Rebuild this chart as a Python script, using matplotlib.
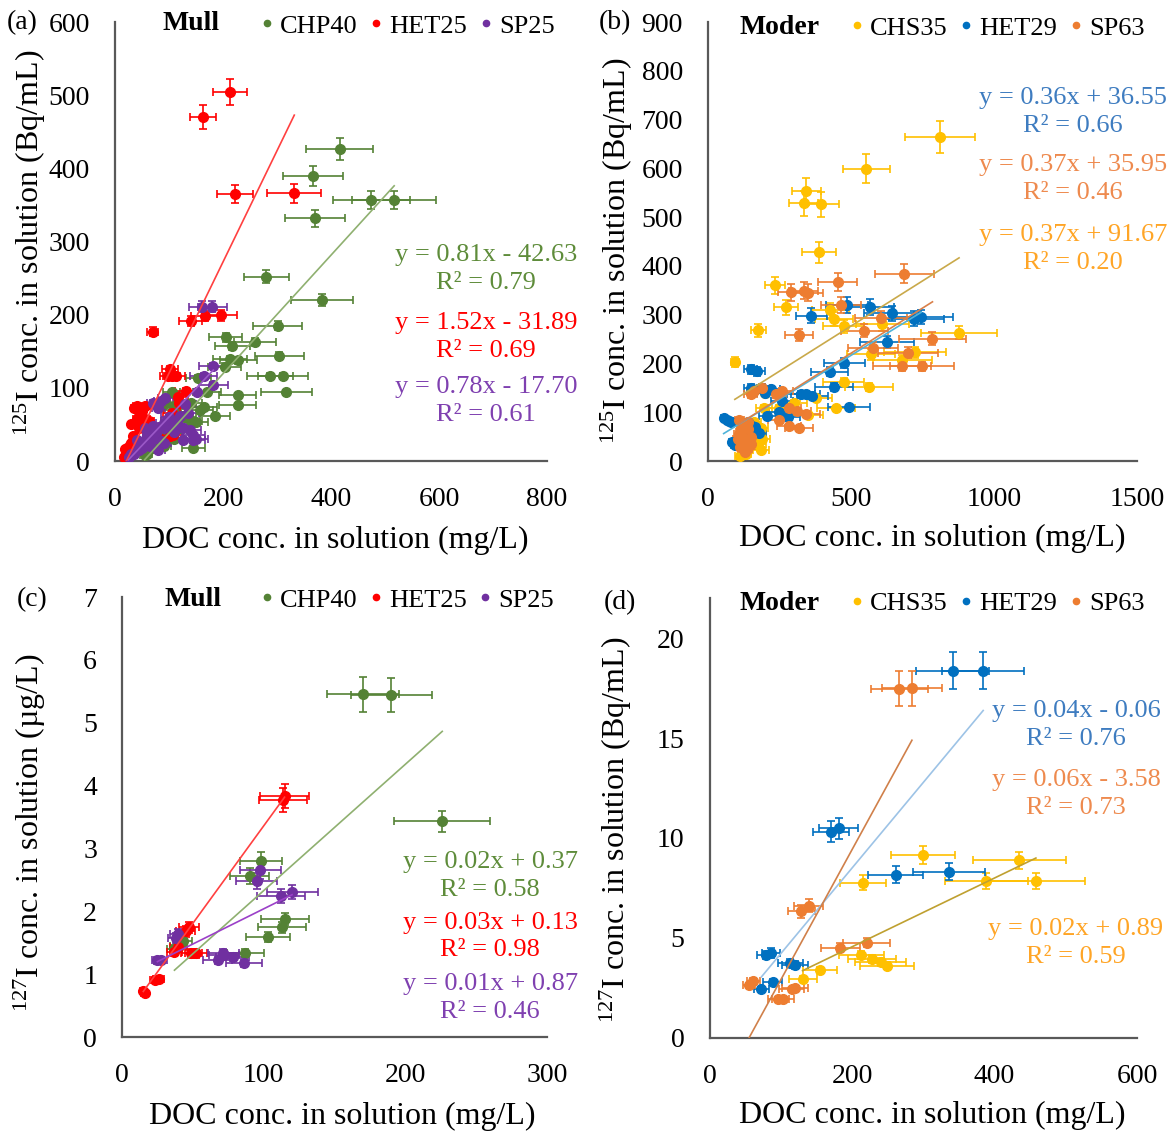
import numpy as np
import matplotlib
matplotlib.use("Agg")
import matplotlib.pyplot as plt
from matplotlib.lines import Line2D

plt.rcParams.update({
    "font.family": "Liberation Serif",
    "mathtext.fontset": "custom",
    "mathtext.rm": "Liberation Serif",
    "mathtext.it": "Liberation Serif:italic",
    "mathtext.bf": "Liberation Serif:bold",
})

# ---------------- data ----------------
# (a) 125I vs DOC, Mull soils
A_CHP40_X = [416, 367, 475, 517, 370, 280, 383, 301, 205, 217, 259, 304, 213, 228, 203,
             287, 311, 317, 227, 227, 170, 154, 185, 164, 150, 157, 105, 107, 130, 120,
             95, 85, 70, 60, 55, 100, 140, 110, 95, 110, 125, 140, 75, 90, 145, 80]
A_CHP40_Y = [426, 390, 357, 357, 332, 252, 220, 185, 169, 157, 163, 144, 139, 138, 129,
             116, 116, 94, 90, 76, 94, 113, 62, 74, 53, 70, 94, 70, 60, 45,
             35, 25, 18, 10, 8, 55, 80, 30, 80, 75, 62, 55, 30, 20, 18, 40]
A_HET25_X = [213, 163, 222, 332, 70, 140, 166, 196, 102, 99, 105, 112, 131, 117, 40,
             56, 40, 49, 56, 105, 34, 102, 110, 18, 25, 30, 45, 60, 85, 35,
             50, 45, 62, 30, 22, 28, 16, 30, 96, 108, 118]
A_HET25_Y = [504, 470, 365, 366, 177, 191, 198, 199, 126, 116, 116, 116, 96, 88, 75,
             75, 58, 58, 58, 66, 34, 34, 40, 16, 12, 25, 45, 45, 30, 72,
             68, 62, 55, 50, 18, 22, 6, 12, 45, 36, 80]
A_SP25_X = [161, 180, 182, 164, 182, 151, 93, 86, 130, 71, 90, 108, 126, 145, 139,
            40, 53, 60, 65, 75, 80, 45, 35, 25, 100, 115, 55, 70, 90, 150,
            30, 45, 60, 75, 90, 105, 120, 135, 110, 125, 145, 70, 80, 50, 85, 40]
A_SP25_Y = [211, 211, 130, 116, 104, 95, 86, 82, 78, 48, 52, 48, 29, 29, 43,
            29, 27, 35, 20, 40, 15, 15, 10, 5, 60, 55, 45, 30, 25, 30,
            10, 22, 30, 38, 45, 55, 62, 66, 40, 45, 35, 80, 72, 18, 28, 15]

# (b) 125I vs DOC, Moder soils
B_CHS35_X = [812, 554, 344, 335, 397, 388, 233, 273, 176, 94, 428, 441, 474, 610, 878,
             570, 723, 680, 564, 474, 448, 377, 248, 196, 178, 143, 132, 97, 184, 160,
             120, 200, 300, 350, 160, 190, 175, 112, 185, 150]
B_CHS35_Y = [664, 599, 553, 528, 526, 428, 360, 315, 268, 203, 309, 291, 276, 281, 263,
             219, 223, 208, 152, 163, 108, 130, 109, 109, 55, 51, 14, 38, 68, 80,
             60, 140, 120, 95, 55, 45, 35, 10, 22, 62]
B_HET29_X = [487, 567, 642, 719, 746, 362, 627, 477, 425, 441, 494, 149, 173, 68, 155,
             178, 208, 219, 260, 324, 342, 365, 108, 161, 97, 130, 120, 250, 190, 280, 80,
             55, 75, 150, 200, 140, 165, 85, 95]
B_HET29_Y = [320, 316, 303, 292, 295, 298, 245, 201, 183, 152, 110, 188, 184, 85, 72,
             58, 92, 147, 123, 137, 137, 133, 34, 68, 38, 60, 45, 100, 150, 90, 80,
             88, 82, 150, 140, 80, 70, 40, 32]
B_SP63_X = [686, 454, 289, 335, 350, 464, 604, 547, 319, 785, 577, 699, 679, 748, 149,
            161, 190, 237, 260, 283, 313, 342, 248, 283, 318, 120, 132, 126, 108, 143,
            140, 150, 130, 110, 120, 115, 125, 130, 120, 135, 140, 105, 150, 128, 112]
B_SP63_Y = [384, 368, 346, 349, 345, 320, 293, 267, 258, 251, 232, 222, 194, 194, 137,
            143, 150, 137, 143, 109, 103, 96, 85, 72, 68, 65, 44, 31, 55, 31,
            80, 50, 20, 85, 75, 60, 50, 40, 30, 25, 65, 45, 35, 18, 28]

# (c) 127I vs DOC, Mull soils
C_CHP40_X = [170, 190, 226, 98, 90, 115, 113, 103, 87, 40, 43, 37]
C_CHP40_Y = [5.45, 5.44, 3.43, 2.80, 2.56, 1.88, 1.75, 1.59, 1.34, 1.45, 1.52, 1.40]
C_HET25_X = [114.7, 113.6, 47.5, 45, 39.5, 37, 48.8, 52, 23, 26, 15, 16]
C_HET25_Y = [3.84, 3.77, 1.75, 1.68, 1.43, 1.36, 1.33, 1.33, 0.91, 0.92, 0.73, 0.70]
C_SP25_X = [97.6, 95, 120, 112, 39.5, 38, 25, 27.5, 71.5, 72, 67.5, 78, 86]
C_SP25_Y = [2.65, 2.48, 2.31, 2.25, 1.64, 1.58, 1.22, 1.22, 1.34, 1.30, 1.22, 1.27, 1.18]

# (d) 127I vs DOC, Moder soils
D_CHS35_X = [300, 434.5, 215, 388, 458, 213, 228, 240, 249, 155, 130.5]
D_CHS35_Y = [9.15, 8.88, 7.77, 7.85, 7.85, 4.15, 3.95, 3.79, 3.61, 3.38, 2.95]
D_HET29_X = [341.6, 384, 170, 181, 261, 336, 79, 86, 113.5, 120, 72.7, 88.6]
D_HET29_Y = [18.36, 18.36, 10.31, 10.49, 8.17, 8.31, 4.15, 4.27, 3.74, 3.65, 2.45, 2.81]
D_SP63_X = [266, 284, 129, 139, 183.6, 220.7, 55, 61.5, 115, 120, 96.5, 103]
D_SP63_Y = [17.46, 17.5, 6.33, 6.61, 4.5, 4.77, 2.63, 2.86, 2.45, 2.5, 1.95, 1.95]

# error bars are percentage bars (x %, y %) per panel
ERR_PCT = {"a": (0.15, 0.035), "b": (0.15, 0.05), "c": (0.15, 0.05), "d": (0.15, 0.05)}

# linear trendlines as drawn (slope, intercept) and their printed labels
FITS = {
    ("a", "CHP40"): (0.81, -42.63, "y = 0.81x - 42.63", "0.79"),
    ("a", "HET25"): (1.52, -31.89, "y = 1.52x - 31.89", "0.69"),
    ("a", "SP25"): (0.78, -17.70, "y = 0.78x - 17.70", "0.61"),
    ("b", "HET29"): (0.36, 36.55, "y = 0.36x + 36.55", "0.66"),
    ("b", "SP63"): (0.37, 35.95, "y = 0.37x + 35.95", "0.46"),
    ("b", "CHS35"): (0.37, 91.67, "y = 0.37x + 91.67", "0.20"),
    ("c", "CHP40"): (0.0201, 0.32, "y = 0.02x + 0.37", "0.58"),
    ("c", "HET25"): (0.031, 0.26, "y = 0.03x + 0.13", "0.98"),
    ("c", "SP25"): (0.0112, 0.92, "y = 0.01x + 0.87", "0.46"),
    ("d", "HET29"): (0.0428, -0.06, "y = 0.04x - 0.06", "0.76"),
    ("d", "SP63"): (0.0651, -3.60, "y = 0.06x - 3.58", "0.73"),
    ("d", "CHS35"): (0.0172, 1.12, "y = 0.02x + 0.89", "0.59"),
}

# ---------------- styles ----------------
MARK = {"CHP40": "#548235", "HET25": "#FF0000", "SP25": "#7030A0",
        "CHS35": "#FFC000", "HET29": "#0070C0", "SP63": "#ED7D31"}
LINE = {"a": {"CHP40": "#8FB070", "HET25": "#FF4040", "SP25": "#9B59C8"},
        "b": {"CHS35": "#C9A94A", "HET29": "#4FB3D9", "SP63": "#D9804A"},
        "c": {"CHP40": "#8FB070", "HET25": "#FF4040", "SP25": "#9B40C8"},
        "d": {"CHS35": "#BFA030", "HET29": "#9DC3E6", "SP63": "#D0804A"}}
TEXT = {"CHP40": "#5E8C3A", "HET25": "#FF0000", "SP25": "#7F40B0",
        "CHS35": "#FFA526", "HET29": "#3E7CC0", "SP63": "#EE8A4E"}

PANELS = {
    "a": dict(rect=[0.0984, 0.5938, 0.3695, 0.3868], xlim=(0, 800, 200), ylim=(0, 600, 100),
              series=[("CHP40", A_CHP40_X, A_CHP40_Y), ("HET25", A_HET25_X, A_HET25_Y),
                      ("SP25", A_SP25_X, A_SP25_Y)],
              ylabel=r"$^{125}$I conc. in solution (Bq/mL)", title="Mull",
              eq_pos={"CHP40": (0.859, 0.4385), "HET25": (0.859, 0.2835), "SP25": (0.859, 0.137)},
              ylab=(-0.197, 0.497), xlab=(0.51, -0.18),
              letter=(0.0194, 0.9797), ttl=(0.1394, 0.9797), leg=(0.2239, 0.9771)),
    "b": dict(rect=[0.6056, 0.5938, 0.367, 0.3868], xlim=(0, 1500, 500), ylim=(0, 900, 100),
              series=[("CHS35", B_CHS35_X, B_CHS35_Y), ("HET29", B_HET29_X, B_HET29_Y),
                      ("SP63", B_SP63_X, B_SP63_Y)],
              ylabel=r"$^{125}$I conc. in solution (Bq/mL)", title="Moder",
              eq_pos={"HET29": (0.851, 0.796), "SP63": (0.851, 0.6415), "CHS35": (0.851, 0.483)},
              ylab=(-0.213, 0.478), xlab=(0.522, -0.177),
              letter=(0.5257, 0.9797), ttl=(0.6322, 0.9762), leg=(0.7286, 0.9755)),
    "c": dict(rect=[0.1044, 0.0863, 0.3636, 0.3877], xlim=(0, 300, 100), ylim=(0, 7, 1),
              series=[("CHP40", C_CHP40_X, C_CHP40_Y), ("HET25", C_HET25_X, C_HET25_Y),
                      ("SP25", C_SP25_X, C_SP25_Y)],
              ylabel="$^{127}$I conc. in solution (\u00b5g/L)", title="Mull",
              eq_pos={"CHP40": (0.866, 0.366), "HET25": (0.866, 0.2285), "SP25": (0.866, 0.0885)},
              ylab=(-0.216, 0.464), xlab=(0.518, -0.18),
              letter=(0.0274, 0.4714), ttl=(0.1407, 0.4714), leg=(0.2235, 0.4714)),
    "d": dict(rect=[0.607, 0.0855, 0.3657, 0.3876], xlim=(0, 600, 200), ylim=(0, 22, 5),
              series=[("CHS35", D_CHS35_X, D_CHS35_Y), ("HET29", D_HET29_X, D_HET29_Y),
                      ("SP63", D_SP63_X, D_SP63_Y)],
              ylabel=r"$^{127}$I conc. in solution (Bq/mL)", title="Moder",
              eq_pos={"HET29": (0.857, 0.711), "SP63": (0.857, 0.5545), "CHS35": (0.857, 0.216)},
              ylab=(-0.218, 0.473), xlab=(0.52, -0.177),
              letter=(0.5304, 0.4687), ttl=(0.6322, 0.4687), leg=(0.7286, 0.4682)),
}


def draw_panel(fig, key, p):
    ax = fig.add_axes(p["rect"])
    xpct, ypct = ERR_PCT[key]
    for name, xs, ys in p["series"]:
        x = np.asarray(xs, float)
        y = np.asarray(ys, float)
        c = MARK[name]
        ax.errorbar(x, y, xerr=x * xpct, yerr=y * ypct, fmt="o", ms=7, mec=c, mfc=c,
                    ecolor=c, elinewidth=1.2, capsize=3.2, capthick=1.2, zorder=3)
    for name, xs, ys in p["series"]:
        m, b, eq, r2 = FITS[(key, name)]
        gx = np.array([min(xs), max(xs)], float)
        ax.plot(gx, m * gx + b, color=LINE[key][name], lw=1.2, zorder=4)
        fx, fy = p["eq_pos"][name]
        ax.text(fx, fy, f"{eq}\nR\u00b2 = {r2}", transform=ax.transAxes, ha="center",
                va="center", multialignment="center", color=TEXT[name], fontsize=19,
                linespacing=1.35)

    x0, x1, xs_ = p["xlim"]
    y0, y1, ys_ = p["ylim"]
    ax.set_xlim(x0, x1)
    ax.set_ylim(y0, y1)
    ax.set_xticks(np.arange(x0, x1 + 1e-9, xs_))
    ax.set_yticks(np.arange(y0, y1 + 1e-9, ys_))
    for s in ("top", "right"):
        ax.spines[s].set_visible(False)
    for s in ("left", "bottom"):
        ax.spines[s].set_color("#595959")
        ax.spines[s].set_linewidth(1.6)
    ax.tick_params(axis="both", length=0, labelsize=20)
    ax.tick_params(axis="y", pad=18)
    ax.tick_params(axis="x", pad=19)

    ax.set_xlabel("DOC conc. in solution (mg/L)", fontsize=23)
    ax.xaxis.label.set_va("center")
    ax.xaxis.set_label_coords(*p["xlab"])
    ax.set_ylabel(p["ylabel"], fontsize=23)
    ax.yaxis.label.set_va("center")
    ax.yaxis.set_label_coords(*p["ylab"])

    fig.text(*p["letter"], f"({key})", fontsize=20, ha="center", va="center")
    fig.text(*p["ttl"], p["title"], fontsize=20, fontweight="bold", ha="left", va="center")
    handles = [Line2D([], [], ls="none", marker="o", ms=4.5, color=MARK[n]) for n, _, _ in p["series"]]
    fig.legend(handles, [n for n, _, _ in p["series"]], loc="center left",
               bbox_to_anchor=p["leg"], ncol=3, frameon=False, fontsize=19,
               handlelength=0.4, handletextpad=0.3, columnspacing=0.5,
               borderpad=0, borderaxespad=0)
    return ax


fig = plt.figure(figsize=(11.69, 11.35), dpi=100)
for key, p in PANELS.items():
    draw_panel(fig, key, p)
fig.savefig("out.png", dpi=100)
